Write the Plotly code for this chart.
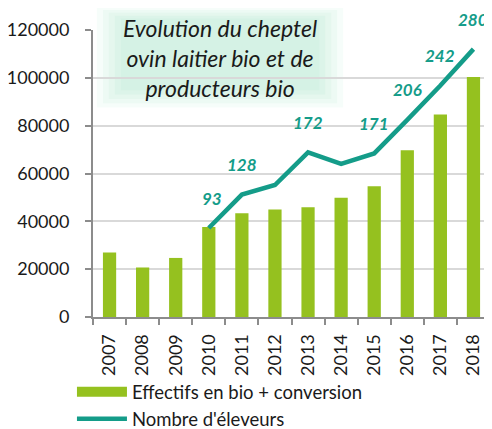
import plotly.graph_objects as go

years = ["2007", "2008", "2009", "2010", "2011", "2012", "2013", "2014", "2015", "2016", "2017", "2018"]
effectifs = [27000, 20700, 24700, 37600, 43400, 45000, 45900, 49900, 54700, 69700, 84700, 100400]
eleveurs = [None, None, None, 93, 128, 138, 172, 160, 171, 206, 242, 280]
labels = ["", "", "", "93", "128", "", "172", "", "171", "206", "242", "280"]

BAR = "#95C11F"
TEAL = "#149C89"
FONT = "Lato"

fig = go.Figure()
fig.add_trace(go.Bar(
    x=years, y=effectifs, name="Effectifs en bio + conversion", showlegend=False,
    marker=dict(color=BAR, line=dict(width=0)), width=0.4, yaxis="y",
))
# legend proxy giving a wide rectangular swatch for the bars
fig.add_trace(go.Scatter(
    x=[None], y=[None], name="Effectifs en bio + conversion", mode="lines",
    line=dict(color=BAR, width=12), showlegend=True,
))
fig.add_trace(go.Scatter(
    x=years, y=eleveurs, name="Nombre d'éleveurs", mode="lines",
    line=dict(color=TEAL, width=4.5), yaxis="y2",
))

annotations = []
for i, (v, lab) in enumerate(zip(eleveurs, labels)):
    if lab:
        annotations.append(dict(
            x=i, y=v, xref="x", yref="y2", text="<b><i>%s</i></b>" % lab,
            showarrow=False, yshift=30, xshift=3 if lab == "93" else 0,
            font=dict(family=FONT, size=17, color=TEAL),
        ))

annotations.append(dict(
    x=0.32, y=1.0, xref="paper", yref="paper", xanchor="center", yanchor="middle",
    text="<i>Evolution du cheptel<br>ovin laitier bio et de<br>producteurs bio</i>",
    showarrow=False, font=dict(family=FONT, size=23, color="#1a1a1a"),
    yshift=-28,
))

shapes = []
glow = [(0.01, 0.63, 0.73, 1.08, 0.12), (0.025, 0.615, 0.745, 1.07, 0.14),
        (0.04, 0.60, 0.76, 1.06, 0.16), (0.055, 0.585, 0.775, 1.05, 0.18),
        (0.07, 0.57, 0.79, 1.04, 0.18)]
for x0, x1, y0, y1, a in glow:
    shapes.append(dict(type="rect", xref="paper", yref="paper", x0=x0, x1=x1, y0=y0, y1=y1,
                       fillcolor="rgba(185,235,210,%s)" % a, line=dict(width=0), layer="below"))

# the page body adds an 8px offset, so the figure is sized to fit the window
fig.update_layout(
    width=484, height=421,
    margin=dict(l=85, r=2, t=22, b=112, autoexpand=False),
    paper_bgcolor="white", plot_bgcolor="white",
    font=dict(family=FONT, size=18, color="#1a1a1a"),
    bargap=0.6,
    xaxis=dict(
        type="category", range=[-0.5, len(years) - 0.5], autorange=False, automargin=False,
        showline=True, linecolor="#8c8c8c", linewidth=2,
        ticks="outside", tickson="boundaries", ticklen=6, tickcolor="#8c8c8c", tickwidth=2,
        tickangle=-90, showgrid=False, tickfont=dict(size=18), ticklabelstandoff=8,
    ),
    yaxis=dict(
        range=[0, 120000], dtick=20000, tickformat="d", automargin=False,
        showline=True, linecolor="#8c8c8c", linewidth=2,
        ticks="outside", ticklen=6, tickcolor="#8c8c8c", tickwidth=2,
        showgrid=True, gridcolor="#d9d9d9", gridwidth=2, zeroline=False,
        tickfont=dict(size=18), ticklabelstandoff=12,
    ),
    yaxis2=dict(range=[0, 300], overlaying="y", side="right", visible=False, showgrid=False),
    legend=dict(
        x=-0.053, y=-0.196, xanchor="left", yanchor="top", orientation="v",
        font=dict(family=FONT, size=18.5, color="#1a1a1a"), itemwidth=50,
        bgcolor="rgba(0,0,0,0)", tracegroupgap=0,
    ),
    annotations=annotations,
    shapes=shapes,
)

fig.write_html("out.html")
